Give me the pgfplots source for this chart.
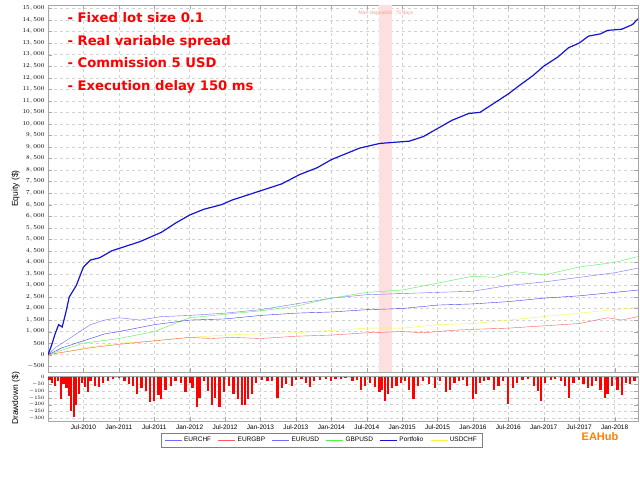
\documentclass[border=0pt]{standalone}
\usepackage{pgfplots}
\pgfplotsset{compat=1.18}
\usepackage{fontspec}
\setmainfont{Liberation Sans}
\newfontfamily\titlefont{DejaVu Sans}
\definecolor{ddred}{RGB}{255,0,0}
\definecolor{lblue}{RGB}{110,110,255}
\definecolor{mblue}{RGB}{60,60,235}
\definecolor{pblue}{RGB}{20,20,210}
\definecolor{lgreen}{RGB}{80,240,80}
\definecolor{lred}{RGB}{255,90,90}
\definecolor{yel}{RGB}{245,245,60}
\begin{document}
\begin{tikzpicture}
\pgfplotsset{every axis/.style={scale only axis, axis line style={gray!70}, grid=major,
 grid style={dashed,gray!35}, tick style={gray!70}, xmin=2010,xmax=2018.33,
 tick label style={font=\fontsize{6.5}{7}\selectfont},
 scaled y ticks=false, yticklabel style={/pgf/number format/fixed,/pgf/number format/1000 sep={,}},
 label style={font=\fontsize{8.5}{9}\selectfont}}}
\begin{axis}[at={(48pt,108pt)},anchor=south west,width=590pt,height=367pt,
 ymin=-750,ymax=15150, ytick distance=500,
 xtick={2010.5,2011,...,2018},xticklabels={},
 ylabel={Equity (\$)}, ylabel style={yshift=-4pt}]
\fill[red!12] (axis cs:2014.68,-750) rectangle (axis cs:2014.86,15150);
\node[font=\fontsize{5}{6}\selectfont,text=red!40] at (axis cs:2014.77,14800) {Max stagnation: 75 days};
\addplot[lblue,thin] coordinates {(2010,0)(2010.1,300)(2010.2,500)(2010.3,700)(2010.45,1000)(2010.6,1300)(2010.8,1500)(2011,1600)(2011.3,1500)(2011.6,1650)(2012,1700)(2012.5,1800)(2013,1950)(2013.5,2200)(2014,2450)(2014.5,2600)(2015,2650)(2015.5,2700)(2016,2750)(2016.5,3000)(2017,3150)(2017.5,3350)(2018,3550)(2018.33,3750)};
\addplot[lgreen,thin] coordinates {(2010,0)(2010.2,200)(2010.5,500)(2011,700)(2011.5,1000)(2012,1600)(2012.5,1750)(2013,1900)(2013.5,2100)(2014,2450)(2014.5,2700)(2015,2800)(2015.5,3100)(2016,3400)(2016.3,3350)(2016.6,3600)(2017,3450)(2017.5,3800)(2018,4000)(2018.33,4250)};
\addplot[mblue,thin] coordinates {(2010,0)(2010.2,300)(2010.5,600)(2010.8,900)(2011,1000)(2011.5,1300)(2012,1500)(2012.5,1550)(2013,1700)(2013.5,1800)(2014,1850)(2014.5,1950)(2015,2000)(2015.5,2150)(2016,2200)(2016.5,2300)(2017,2450)(2017.5,2550)(2018,2700)(2018.33,2800)};
\addplot[yel,thin] coordinates {(2010,0)(2010.3,150)(2010.6,350)(2011,500)(2011.5,600)(2012,750)(2012.5,850)(2013,900)(2013.5,950)(2014,1050)(2014.5,1150)(2015,1150)(2015.5,1300)(2016,1350)(2016.5,1500)(2017,1650)(2017.5,1800)(2018,1950)(2018.33,2050)};
\addplot[lred,thin] coordinates {(2010,0)(2010.3,150)(2010.6,300)(2011,450)(2011.5,600)(2012,750)(2012.3,700)(2012.6,750)(2013,700)(2013.5,800)(2014,850)(2014.5,950)(2015,1000)(2015.3,950)(2015.7,1050)(2016,1100)(2016.5,1150)(2017,1250)(2017.5,1350)(2017.9,1600)(2018.1,1500)(2018.33,1650)};
\addplot[pblue,line width=1.2pt] coordinates {(2010,0)(2010.05,400)(2010.1,900)(2010.15,1300)(2010.2,1200)(2010.25,1800)(2010.3,2500)(2010.4,3000)(2010.5,3800)(2010.6,4100)(2010.73,4200)(2010.9,4500)(2011.15,4750)(2011.3,4900)(2011.45,5100)(2011.6,5300)(2011.8,5700)(2012.0,6050)(2012.2,6300)(2012.45,6500)(2012.6,6700)(2013.0,7100)(2013.3,7400)(2013.55,7800)(2013.8,8100)(2014.0,8450)(2014.2,8700)(2014.4,8950)(2014.68,9150)(2014.8,9180)(2015.1,9250)(2015.3,9450)(2015.5,9800)(2015.7,10150)(2015.94,10450)(2016.1,10500)(2016.35,11000)(2016.5,11300)(2016.65,11650)(2016.85,12100)(2017.0,12500)(2017.2,12900)(2017.35,13300)(2017.5,13500)(2017.63,13800)(2017.8,13900)(2017.9,14050)(2018.1,14100)(2018.25,14300)(2018.33,14550)};
\end{axis}
\node[anchor=north west,align=left,text=ddred,font=\titlefont\bfseries\fontsize{13.2}{22.5}\selectfont] at (64pt,471pt) {- Fixed lot size 0.1\\- Real variable spread\\- Commission 5 USD\\- Execution delay 150 ms};
\begin{axis}[at={(48pt,59pt)},anchor=south west,width=590pt,height=45pt,
 ymin=-320,ymax=10, ytick distance=50,
 yticklabel style={font=\fontsize{5.5}{6}\selectfont},
 xtick={2010.5,2011,...,2018},
 xticklabels={Jul-2010,Jan-2011,Jul-2011,Jan-2012,Jul-2012,Jan-2013,Jul-2013,Jan-2014,Jul-2014,Jan-2015,Jul-2015,Jan-2016,Jul-2016,Jan-2017,Jul-2017,Jan-2018},
 ylabel={Drawdown (\$)}, ylabel style={yshift=2pt},
 legend columns=6, legend style={at={(0.464,-0.42)},anchor=center,font=\fontsize{6.5}{7}\selectfont,draw=gray,
 /tikz/every even column/.append style={column sep=5pt}}, legend image post style={sharp plot}]
\addlegendimage{lblue}\addlegendentry{EURCHF}
\addlegendimage{lred}\addlegendentry{EURGBP}
\addlegendimage{lblue}\addlegendentry{EURUSD}
\addlegendimage{lgreen}\addlegendentry{GBPUSD}
\addlegendimage{pblue}\addlegendentry{Portfolio}
\addlegendimage{yel}\addlegendentry{USDCHF}
\addplot[ycomb,ddred,line width=2.2pt,forget plot] coordinates {
(2010.02,-20)(2010.06,-40)(2010.1,-60)(2010.14,-30)(2010.18,-160)(2010.22,-50)(2010.26,-80)(2010.30,-140)(2010.33,-250)(2010.37,-290)(2010.40,-200)(2010.44,-120)(2010.48,-40)(2010.52,-70)(2010.56,-110)(2010.60,-30)(2010.66,-60)(2010.72,-70)(2010.78,-40)(2010.85,-30)(2010.92,-15)(2011.0,-5)(2011.08,-25)(2011.14,-45)(2011.2,-60)(2011.26,-120)(2011.32,-80)(2011.38,-100)(2011.44,-180)(2011.5,-170)(2011.56,-130)(2011.6,-160)(2011.66,-90)(2011.74,-60)(2011.8,-30)(2011.88,-40)(2011.94,-110)(2012.0,-40)(2012.04,-80)(2012.1,-220)(2012.14,-150)(2012.2,-30)(2012.26,-100)(2012.32,-200)(2012.36,-150)(2012.42,-215)(2012.48,-110)(2012.56,-60)(2012.62,-120)(2012.68,-160)(2012.74,-200)(2012.78,-205)(2012.82,-160)(2012.88,-120)(2012.94,-40)(2013.02,-20)(2013.1,-30)(2013.16,-30)(2013.24,-150)(2013.3,-80)(2013.36,-50)(2013.44,-60)(2013.5,-20)(2013.58,-10)(2013.64,-40)(2013.7,-70)(2013.76,-30)(2013.84,-20)(2013.92,-10)(2014.0,-25)(2014.06,-15)(2014.14,-10)(2014.2,-5)(2014.3,-30)(2014.36,-20)(2014.42,-90)(2014.48,-60)(2014.55,-40)(2014.62,-70)(2014.68,-110)(2014.72,-90)(2014.76,-175)(2014.8,-120)(2014.86,-80)(2014.92,-60)(2014.98,-40)(2015.04,-30)(2015.1,-90)(2015.16,-160)(2015.22,-60)(2015.3,-30)(2015.38,-50)(2015.46,-80)(2015.54,-30)(2015.62,-110)(2015.68,-90)(2015.74,-40)(2015.8,-30)(2015.86,-20)(2015.92,-60)(2016.0,-155)(2016.04,-120)(2016.1,-40)(2016.16,-30)(2016.22,-20)(2016.3,-90)(2016.36,-60)(2016.42,-30)(2016.5,-195)(2016.56,-80)(2016.62,-40)(2016.7,-20)(2016.78,-10)(2016.86,-60)(2016.92,-100)(2016.96,-175)(2017.02,-40)(2017.1,-20)(2017.16,-10)(2017.24,-30)(2017.3,-60)(2017.36,-150)(2017.42,-40)(2017.5,-20)(2017.56,-50)(2017.62,-80)(2017.68,-60)(2017.74,-30)(2017.8,-90)(2017.86,-150)(2017.9,-120)(2017.96,-60)(2018.04,-90)(2018.1,-130)(2018.16,-40)(2018.22,-50)(2018.28,-30)};
\end{axis}
\node[text=orange,font=\bfseries\fontsize{11}{12}\selectfont] at (600pt,43pt) {EAHub};
\pgfresetboundingbox
\useasboundingbox (0,0) rectangle (640pt,480pt);
\end{tikzpicture}
\end{document}
